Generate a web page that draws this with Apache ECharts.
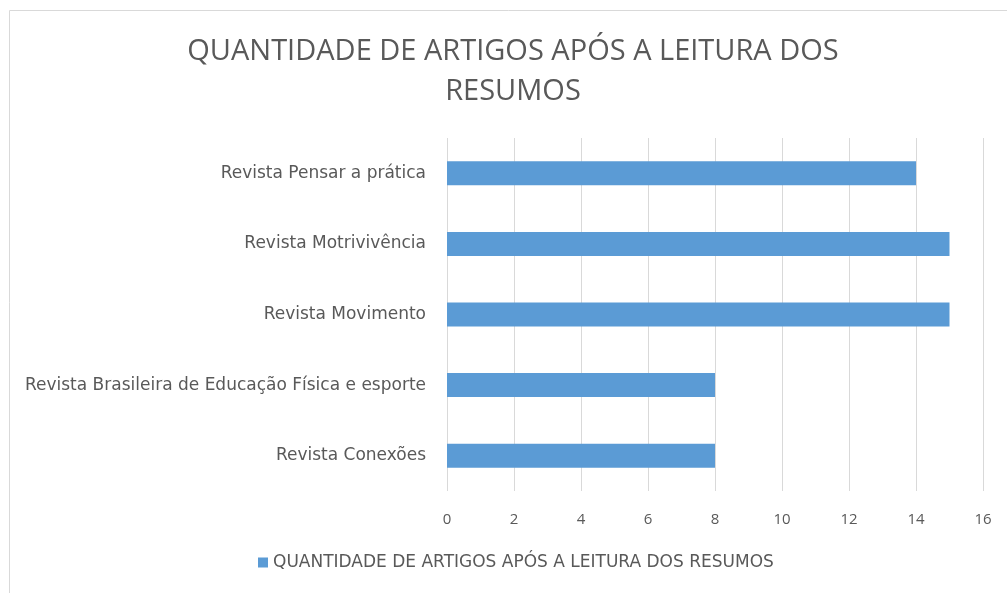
<!DOCTYPE html>
<html>
<head>
<meta charset="utf-8">
<script src="https://cdn.jsdelivr.net/npm/echarts@6/dist/echarts.min.js"></script>
<style>
  html, body { margin: 0; padding: 0; background: #fff; }
  #chart { width: 1007px; height: 593px; }
</style>
</head>
<body>
<div id="chart"></div>
<script>
const categories = [
  'Revista Conexões',
  'Revista Brasileira de Educação Física e esporte',
  'Revista Movimento',
  'Revista Motrivivência',
  'Revista Pensar a prática'
]
const values = [8, 8, 15, 15, 14]
const seriesName = 'QUANTIDADE DE ARTIGOS APÓS A LEITURA DOS RESUMOS'
const titleText = 'QUANTIDADE DE ARTIGOS APÓS A LEITURA DOS\nRESUMOS'

const textColor = '#595959'
const font = '"Open Sans", "Noto Sans", sans-serif'
const wideFont = '"DejaVu Sans", sans-serif'

const myChart = echarts.init(document.getElementById('chart'))
const option = {
  animation: false,
  textStyle: { fontFamily: font },
  graphic: [
    {
      type: 'rect',
      shape: { x: 9.5, y: 10.5, width: 1100, height: 700 },
      style: { fill: 'none', stroke: '#d9d9d9', lineWidth: 1 },
      silent: true,
    },
  ],
  title: {
    text: titleText,
    left: 508,
    textAlign: 'center',
    top: 27,
    textStyle: {
      fontFamily: font,
      fontSize: 29,
      fontWeight: 'normal',
      color: textColor,
      lineHeight: 40,
    },
  },
  legend: {
    bottom: 17,
    left: 253,
    itemWidth: 10,
    itemHeight: 10,
    itemGap: 6,
    icon: 'rect',
    textStyle: { fontFamily: wideFont, fontSize: 17, color: textColor },
    data: [seriesName],
  },
  grid: { left: 447, right: 24, top: 138, bottom: 102 },
  xAxis: {
    type: 'value',
    min: 0,
    max: 16,
    interval: 2,
    axisLine: { show: false },
    axisTick: { show: false },
    splitLine: { lineStyle: { color: '#d9d9d9' } },
    axisLabel: { color: textColor, fontSize: 15, margin: 21, fontFamily: font },
  },
  yAxis: {
    type: 'category',
    data: categories,
    axisLine: { show: false },
    axisTick: { show: false },
    axisLabel: { color: textColor, fontSize: 17, margin: 21, fontFamily: wideFont },
  },
  series: [
    {
      name: seriesName,
      type: 'bar',
      data: values,
      barWidth: 24,
      itemStyle: { color: '#5b9bd5' },
    },
  ],
}
myChart.setOption(option)
</script>
</body>
</html>
